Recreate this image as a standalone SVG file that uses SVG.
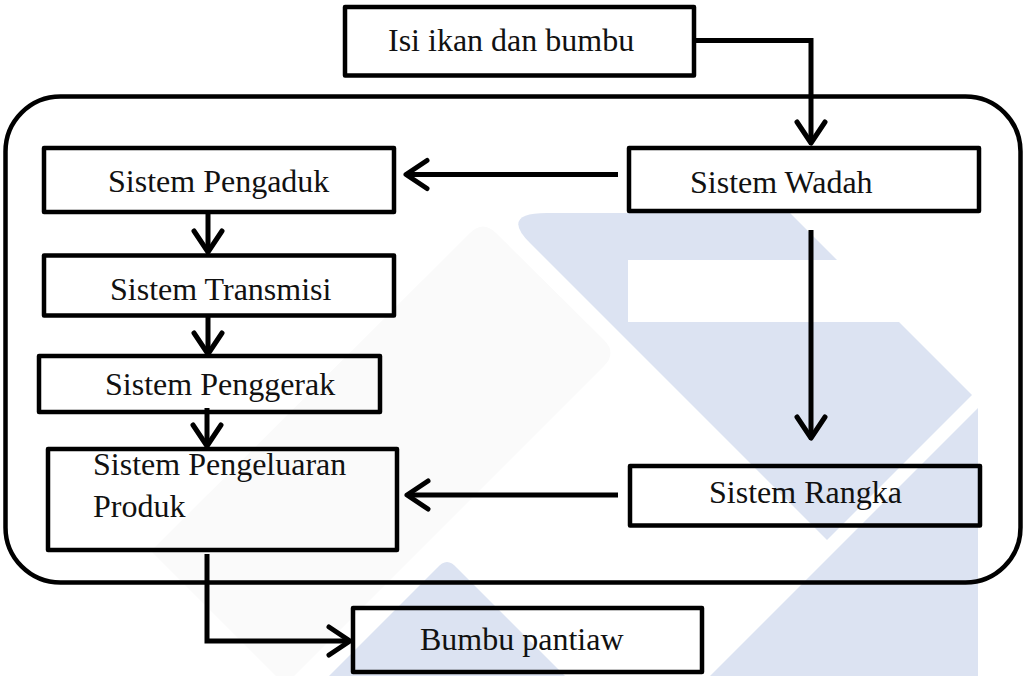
<svg xmlns="http://www.w3.org/2000/svg" width="1024" height="676" viewBox="0 0 1024 676">
  <style>
    .box { fill: none; stroke: #000; stroke-width: 4.5; stroke-linejoin: round; }
    .frame { fill: none; stroke: #000; stroke-width: 4.5; }
    .link { fill: none; stroke: #000; stroke-width: 5; stroke-linejoin: miter; }
    .label { font-family: "Liberation Serif", "Times New Roman", serif; font-size: 32px; fill: #111; }
    .wm-blue { fill: #dce3f2; }
    .wm-grey { fill: #fafafa; }
  </style>
  <defs>
    <marker id="chev" markerUnits="userSpaceOnUse" markerWidth="40" markerHeight="40" viewBox="-26 -20 32 40" refX="0" refY="0" orient="auto" overflow="visible">
      <path d="M-21,-14 L0,0 L-21,14" fill="none" stroke="#000" stroke-width="5" stroke-linecap="round" stroke-linejoin="round"/>
    </marker>
  </defs>

  <rect width="1024" height="676" fill="#fff"/>

  <!-- background watermark -->
  <g id="watermark">
    <path class="wm-grey" d="M470,233 Q483,220 496,233 L604,340 Q617,353 604,366 L285,685 L151,551 Z"/>
    <path class="wm-blue" d="M547,213 L790,213 L972,395 L827,540 L530,243 Q500,213 547,213 Z"/>
    <rect x="628" y="260" width="300" height="62" fill="#fff"/>
    <path class="wm-blue" d="M978,408 L978,676 L710,676 Z"/>
    <path class="wm-blue" d="M437,568 Q447,556 457,568 L565,676 L329,676 Z"/>
  </g>

  <!-- enclosing system frame -->
  <rect id="frame" class="frame" x="5.5" y="96.5" width="1015" height="486" rx="55" ry="55"/>

  <g id="connectors">
    <polyline class="link" points="694,40.5 811,40.5 811,143" marker-end="url(#chev)"/>
    <line class="link" x1="618" y1="174.5" x2="406" y2="174.5" marker-end="url(#chev)"/>
    <line class="link" x1="811" y1="230" x2="811" y2="438" marker-end="url(#chev)"/>
    <line class="link" x1="208" y1="212" x2="208" y2="252" marker-end="url(#chev)"/>
    <line class="link" x1="208" y1="315" x2="208" y2="354" marker-end="url(#chev)"/>
    <line class="link" x1="207" y1="408" x2="207" y2="446" marker-end="url(#chev)"/>
    <line class="link" x1="618" y1="495" x2="407" y2="495" marker-end="url(#chev)"/>
    <polyline class="link" points="207,554 207,641 350,641" marker-end="url(#chev)"/>
  </g>

  <g id="isi-ikan">
    <rect class="box" x="345" y="7" width="349" height="68.5"/>
    <text class="label" x="388" y="51">Isi ikan dan bumbu</text>
  </g>
  <g id="sistem-wadah">
    <rect class="box" x="629" y="148" width="350" height="63"/>
    <text class="label" x="690" y="193">Sistem Wadah</text>
  </g>
  <g id="sistem-pengaduk">
    <rect class="box" x="44" y="148" width="350" height="64"/>
    <text class="label" x="108" y="192">Sistem Pengaduk</text>
  </g>
  <g id="sistem-transmisi">
    <rect class="box" x="44" y="255.5" width="350" height="60"/>
    <text class="label" x="110" y="300">Sistem Transmisi</text>
  </g>
  <g id="sistem-penggerak">
    <rect class="box" x="39" y="356" width="341" height="56"/>
    <text class="label" x="105" y="395">Sistem Penggerak</text>
  </g>
  <g id="sistem-pengeluaran">
    <rect class="box" x="48" y="449" width="349" height="101"/>
    <text class="label" x="93" y="475">Sistem Pengeluaran</text>
    <text class="label" x="93" y="517">Produk</text>
  </g>
  <g id="sistem-rangka">
    <rect class="box" x="630" y="466" width="350" height="59.5"/>
    <text class="label" x="709" y="503">Sistem Rangka</text>
  </g>
  <g id="bumbu-pantiaw">
    <rect class="box" x="353" y="608" width="349" height="64"/>
    <text class="label" x="420" y="650">Bumbu pantiaw</text>
  </g>
</svg>
